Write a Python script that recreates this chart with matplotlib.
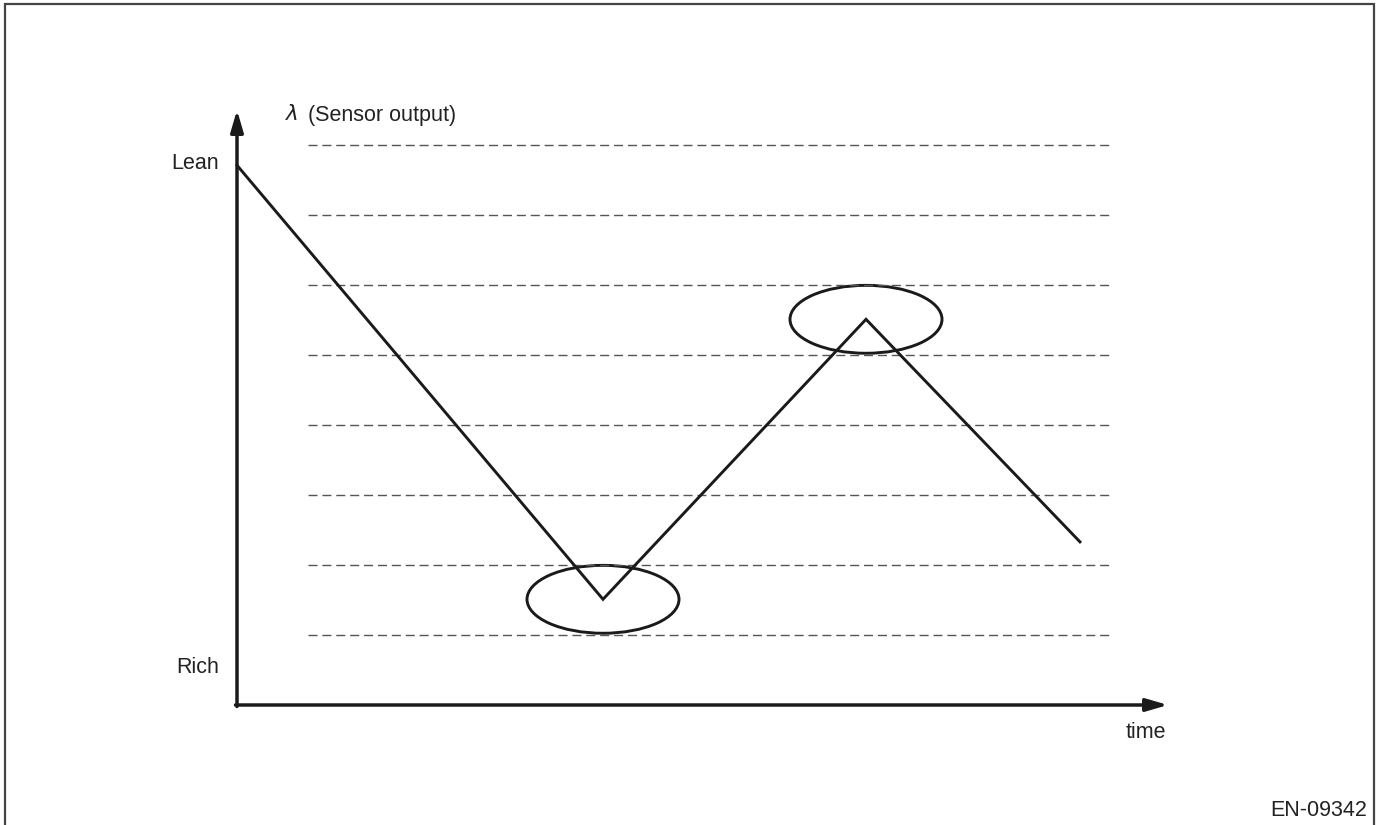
import matplotlib
matplotlib.use("Agg")
import matplotlib.pyplot as plt
from matplotlib.patches import Ellipse

plt.rcParams['font.family'] = ['Liberation Sans', 'DejaVu Sans']

# ---- data (time units, lambda levels) ----
time_pts = [0.0, 3.66, 6.29, 8.43]
lambda_vals = [7.71, 1.51, 5.51, 2.33]
grid_levels = [1, 2, 3, 4, 5, 6, 7, 8]
circled_idx = [1, 2]
y_labels = {"Lean": 7.74, "Rich": 0.53}
x_label = "time"
y_title = "(Sensor output)"
code_label = "EN-09342"

# pixel mapping: x_px = 237 + 100*t ; y_px = 705 - 70*v
W, H = 1376, 825
fig = plt.figure(figsize=(W / 100, H / 100), dpi=100)
ax = fig.add_axes([0, 0, 1, 1])
ax.set_xlim(-2.37, (W - 237) / 100)
ax.set_ylim(-(H - 705) / 70, 705 / 70)
ax.axis('off')

def px(x, y):
    return (x - 237) / 100, (705 - y) / 70

# frame (open at bottom)
bx = [px(5, 0)[0], px(5, 0)[0], px(1374, 0)[0], px(1374, 0)[0]]
by = [px(0, 830)[1], px(0, 4)[1], px(0, 4)[1], px(0, 830)[1]]
ax.plot(bx, by, color='#444444', lw=1.6, solid_joinstyle='miter', clip_on=False)

# dashed reference lines
gx0, gx1 = px(308, 0)[0], px(1110, 0)[0]
for lv in grid_levels:
    ax.plot([gx0, gx1], [lv, lv], color='#555555', lw=1.0,
            linestyle=(0, (6.5, 3.5)))

# axes with arrows
ax.annotate('', xy=(0, px(0, 110)[1]), xytext=(0, px(0, 706.5)[1]),
            arrowprops=dict(arrowstyle='-|>,head_length=1.3,head_width=0.38',
                            color='#1a1a1a', lw=2.5, shrinkA=0, shrinkB=0))
ax.annotate('', xy=(px(1168, 0)[0], 0), xytext=(px(235.5, 0)[0], 0),
            arrowprops=dict(arrowstyle='-|>,head_length=1.3,head_width=0.38',
                            color='#1a1a1a', lw=2.5, shrinkA=0, shrinkB=0))

# sensor output line
ax.plot(time_pts, lambda_vals, color='#1a1a1a', lw=2.1, solid_joinstyle='miter')

# ellipses at turning points
for i in circled_idx:
    ax.add_patch(Ellipse((time_pts[i], lambda_vals[i]), 1.52, 0.97,
                         fill=False, edgecolor='#1a1a1a', lw=2.1))

# text
fs = 15.5
for lab, v in y_labels.items():
    ax.text(px(219, 0)[0], v, lab, ha='right', va='center', fontsize=fs, color='#222222')
ax.text(px(285, 0)[0], px(0, 115)[1], r'$\lambda$', ha='left', va='center',
        fontsize=fs, color='#222222')
ax.text(px(308, 0)[0], px(0, 115)[1], y_title, ha='left', va='center',
        fontsize=fs, color='#222222')
ax.text(px(1146, 0)[0], px(0, 732)[1], x_label, ha='center', va='center',
        fontsize=fs, color='#222222')
ax.text(px(1367, 0)[0], px(0, 810)[1], code_label, ha='right', va='center',
        fontsize=fs, color='#222222')

fig.savefig('out.png', dpi=100, facecolor='white')
